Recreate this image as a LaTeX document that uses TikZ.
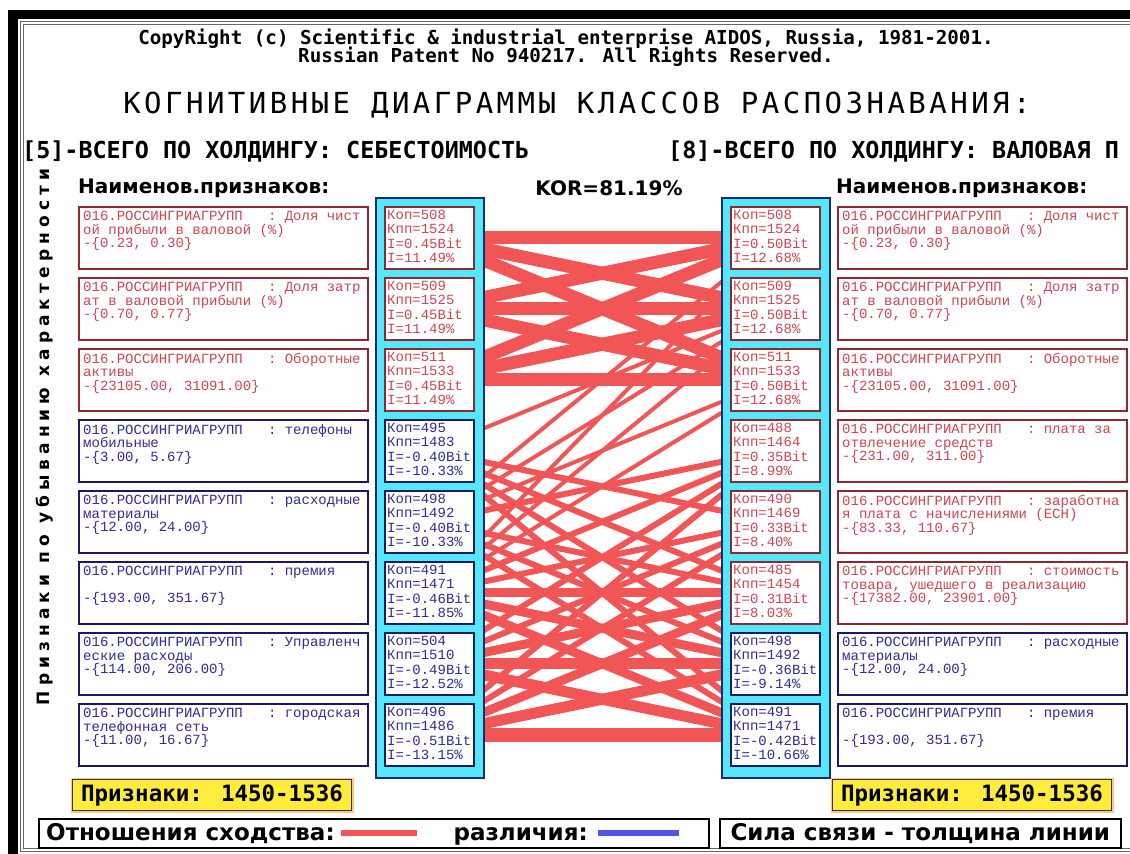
\documentclass[tikz,border=0pt]{standalone}
\usepackage{fontspec}
\setmainfont{DejaVu Sans}
\newfontfamily\cellfont{Liberation Mono}
\newfontfamily\hdfont{DejaVu Sans Mono}
\newfontfamily\titlefont[LetterSpace=12]{DejaVu Sans Mono}
\newfontfamily\labfont{DejaVu Sans}
\newfontfamily\sidefont[LetterSpace=30]{DejaVu Sans}
\usetikzlibrary{positioning,backgrounds}

\definecolor{posline}{RGB}{140,40,50}
\definecolor{postext}{RGB}{205,70,80}
\definecolor{negline}{RGB}{25,25,100}
\definecolor{negtext}{RGB}{45,45,150}
\definecolor{simred}{RGB}{242,85,85}
\definecolor{difblue}{RGB}{85,85,235}
\definecolor{colcyan}{RGB}{85,232,250}
\definecolor{colline}{RGB}{25,45,110}
\definecolor{tagyel}{RGB}{255,236,60}

\tikzset{
  feat/.style={anchor=north west, minimum width=289pt, minimum height=62pt,
    inner sep=0pt, line width=1.5pt, fill=white},
  kon/.style={feat, minimum width=89pt},
  poscell/.style={draw=posline, text=postext},
  negcell/.style={draw=negline, text=negtext},
  celltext/.style={anchor=north west, inner sep=0pt, align=left,
    font=\cellfont\fontsize{14}{13.5}\selectfont},
  kontext/.style={celltext, font=\cellfont\fontsize{14}{14.3}\selectfont},
  column/.style={draw=colline, fill=colcyan, line width=1.5pt, anchor=north west,
    minimum width=108pt, minimum height=580pt, inner sep=0pt},
  sim/.style={draw=simred, line width=#1},
  tag/.style={draw=black!80, fill=tagyel, line width=1.4pt, minimum width=279pt,
    minimum height=31pt, inner sep=0pt, preaction={draw=orange!45, line width=4pt},
    font=\hdfont\bfseries\fontsize{22.5}{22.5}\selectfont},
  legend/.style={draw=black, line width=1.6pt, fill=white, anchor=north west,
    minimum height=29pt, inner sep=0pt, font=\labfont\bfseries\fontsize{23}{23}\selectfont},
}

% group name in front of every feature
\newcommand\grp{016.РОССИНГРИАГРУПП\ \ \ :\ }
% feature cell and Kon cell: box, then its text at the top left
\newcommand\fcell[5]{\node[feat,#1] (#2) at (#3,#4) {};
  \node[celltext,#1,draw=none] at ([xshift=5pt,yshift=-5pt]#2.north west) {#5};}
\newcommand\kcell[5]{\node[kon,#1] (#2) at (#3,#4) {};
  \node[kontext,#1,draw=none] at ([xshift=3pt,yshift=-4pt]#2.north west) {#5};}

\begin{document}
\begin{tikzpicture}[x=1pt,y=-1pt]
\useasboundingbox (0,0) rectangle (1130,854);

% frame
\fill[black] (8,10) rectangle (1130,19);
\fill[black] (8,10) rectangle (18,854);
\draw[black!60, double=white, double distance=1.5pt, line width=0.8pt] (22,23) rectangle (1140,850);

% headings
\node[font=\hdfont\bfseries\fontsize{19.2}{19}\selectfont] (copy) at (566,39)
  {CopyRight (c) Scientific \& industrial enterprise AIDOS, Russia, 1981-2001.};
\node[font=\hdfont\bfseries\fontsize{19.2}{19}\selectfont] (patent) at (566,57)
  {Russian Patent No 940217. All Rights Reserved.};
\node[font=\titlefont\fontsize{29}{29}\selectfont] (title) at (577,105)
  {КОГНИТИВНЫЕ ДИАГРАММЫ КЛАССОВ РАСПОЗНАВАНИЯ:};
\node[anchor=west, inner sep=0pt, font=\hdfont\bfseries\fontsize{23.4}{23}\selectfont] (lcls) at (22,151)
  {[5]-ВСЕГО ПО ХОЛДИНГУ: СЕБЕСТОИМОСТЬ};
\node[anchor=west, inner sep=0pt, font=\hdfont\bfseries\fontsize{23.4}{23}\selectfont] (rcls) at (668,151)
  {[8]-ВСЕГО ПО ХОЛДИНГУ: ВАЛОВАЯ П};
\node[anchor=west, inner sep=0pt, font=\labfont\bfseries\fontsize{20}{20}\selectfont] (lname) at (78,188)
  {Наименов.признаков:};
\node[anchor=west, inner sep=0pt, font=\labfont\bfseries\fontsize{20}{20}\selectfont] (rname) at (836,188)
  {Наименов.признаков:};
\node[font=\labfont\bfseries\fontsize{20}{20}\selectfont] (kor) at (609,188) {KOR=81.19\%};
\node[rotate=90, font=\sidefont\bfseries\fontsize{17}{17}\selectfont] (side) at (45,437)
  {Признаки по убыванию характерности};

% columns of Kon cells
\node[column] (lcol) at (375,197) {};
\node[column] (rcol) at (721,197) {};

% left class
\fcell{poscell}{lf1}{78}{206}{\grp Доля чист\\ой прибыли в валовой (\%)\\-\{0.23, 0.30\}}
\fcell{poscell}{lf2}{78}{277}{\grp Доля затр\\ат в валовой прибыли (\%)\\-\{0.70, 0.77\}}
\fcell{poscell}{lf3}{78}{348}{\grp Оборотные\\активы\\-\{23105.00, 31091.00\}}
\fcell{negcell}{lf4}{78}{419}{\grp телефоны\\мобильные\\-\{3.00, 5.67\}}
\fcell{negcell}{lf5}{78}{490}{\grp расходные\\материалы\\-\{12.00, 24.00\}}
\fcell{negcell}{lf6}{78}{561}{\grp премия\\\mbox{}\\-\{193.00, 351.67\}}
\fcell{negcell}{lf7}{78}{632}{\grp Управленч\\еские расходы\\-\{114.00, 206.00\}}
\fcell{negcell}{lf8}{78}{703}{\grp городская\\телефонная сеть\\-\{11.00, 16.67\}}

\kcell{poscell}{lk1}{384}{206}{Коп=508\\Кпп=1524\\I=0.45Bit\\I=11.49\%}
\kcell{poscell}{lk2}{384}{277}{Коп=509\\Кпп=1525\\I=0.45Bit\\I=11.49\%}
\kcell{poscell}{lk3}{384}{348}{Коп=511\\Кпп=1533\\I=0.45Bit\\I=11.49\%}
\kcell{negcell}{lk4}{384}{419}{Коп=495\\Кпп=1483\\I=-0.40Bit\\I=-10.33\%}
\kcell{negcell}{lk5}{384}{490}{Коп=498\\Кпп=1492\\I=-0.40Bit\\I=-10.33\%}
\kcell{negcell}{lk6}{384}{561}{Коп=491\\Кпп=1471\\I=-0.46Bit\\I=-11.85\%}
\kcell{negcell}{lk7}{384}{632}{Коп=504\\Кпп=1510\\I=-0.49Bit\\I=-12.52\%}
\kcell{negcell}{lk8}{384}{703}{Коп=496\\Кпп=1486\\I=-0.51Bit\\I=-13.15\%}

% right class
\kcell{poscell}{rk1}{730}{206}{Коп=508\\Кпп=1524\\I=0.50Bit\\I=12.68\%}
\kcell{poscell}{rk2}{730}{277}{Коп=509\\Кпп=1525\\I=0.50Bit\\I=12.68\%}
\kcell{poscell}{rk3}{730}{348}{Коп=511\\Кпп=1533\\I=0.50Bit\\I=12.68\%}
\kcell{poscell}{rk4}{730}{419}{Коп=488\\Кпп=1464\\I=0.35Bit\\I=8.99\%}
\kcell{poscell}{rk5}{730}{490}{Коп=490\\Кпп=1469\\I=0.33Bit\\I=8.40\%}
\kcell{poscell}{rk6}{730}{561}{Коп=485\\Кпп=1454\\I=0.31Bit\\I=8.03\%}
\kcell{negcell}{rk7}{730}{632}{Коп=498\\Кпп=1492\\I=-0.36Bit\\I=-9.14\%}
\kcell{negcell}{rk8}{730}{703}{Коп=491\\Кпп=1471\\I=-0.42Bit\\I=-10.66\%}

\fcell{poscell}{rf1}{837}{206}{\grp Доля чист\\ой прибыли в валовой (\%)\\-\{0.23, 0.30\}}
\fcell{poscell}{rf2}{837}{277}{\grp Доля затр\\ат в валовой прибыли (\%)\\-\{0.70, 0.77\}}
\fcell{poscell}{rf3}{837}{348}{\grp Оборотные\\активы\\-\{23105.00, 31091.00\}}
\fcell{poscell}{rf4}{837}{419}{\grp плата за\\отвлечение средств\\-\{231.00, 311.00\}}
\fcell{poscell}{rf5}{837}{490}{\grp заработна\\я плата с начислениями (ЕСН)\\-\{83.33, 110.67\}}
\fcell{poscell}{rf6}{837}{561}{\grp стоимость\\товара, ушедшего в реализацию\\-\{17382.00, 23901.00\}}
\fcell{negcell}{rf7}{837}{632}{\grp расходные\\материалы\\-\{12.00, 24.00\}}
\fcell{negcell}{rf8}{837}{703}{\grp премия\\\mbox{}\\-\{193.00, 351.67\}}

% links between the two classes, under the columns
\begin{scope}[on background layer]
  \fill[white] (0,0) rectangle (1130,854);
  \foreach \i/\j in {1/1,1/2,1/3,2/1,2/2,2/3,3/1,3/2,3/3}
    \draw[sim=13pt] (lk\i.center) -- (rk\j.center);
  \foreach \i/\j in {4/2,5/1,5/2,5/3,6/1,6/2,6/3}
    \draw[sim=4pt] (lk\i.center) -- (rk\j.center);
  \foreach \i/\j in {4/5,4/6,4/7,4/8,5/4,5/6,5/7,5/8,6/4,6/5,7/4,7/5,8/4,8/5}
    \draw[sim=6pt] (lk\i.center) -- (rk\j.center);
  \foreach \i/\j/\w in {6/6/9,6/7/9,6/8/9,7/6/9,8/6/9,7/7/11,7/8/11,8/7/11,8/8/14}
    \draw[sim=\w pt] (lk\i.center) -- (rk\j.center);
\end{scope}

% bottom labels
\node[tag] (ltag) at (212,795) {Признаки: 1450-1536};
\node[tag] (rtag) at (972,795) {Признаки: 1450-1536};

\node[legend, minimum width=670pt] (leg1) at (38,818) {};
\node[legend, minimum width=401pt] (leg2) at (719,818) {Сила связи - толщина линии};
\node[anchor=west, inner sep=0pt, font=\labfont\bfseries\fontsize{23}{23}\selectfont] (simtxt)
  at ([xshift=8pt]leg1.west) {Отношения сходства:};
\draw[simred, line width=6pt] ([xshift=6pt]simtxt.east) -- ++(76,0);
\node[anchor=base east, inner sep=0pt, font=\labfont\bfseries\fontsize{23}{23}\selectfont] (diftxt)
  at (simtxt.base -| 588,0) {различия:};
\draw[difblue, line width=6pt] ([xshift=10pt]diftxt.east |- simtxt.east) -- ++(81,0);
\end{tikzpicture}
\end{document}
